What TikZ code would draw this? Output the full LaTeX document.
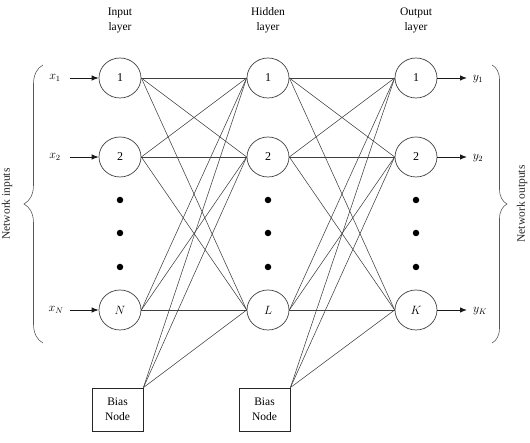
\documentclass[tikz,border=0pt]{standalone}
\usepackage{fontspec}
\setmainfont{Liberation Serif}
\usetikzlibrary{shapes.geometric,arrows.meta,decorations.pathreplacing}
\begin{document}
\begin{tikzpicture}[x=1pt,y=1pt,
 neuron/.style={ellipse,draw=black!75,line width=0.7pt,minimum width=42pt,minimum height=40pt,inner sep=0pt,font=\fontsize{12}{14}\selectfont},
 biasbox/.style={rectangle,draw=black!85,line width=0.8pt,minimum width=51pt,minimum height=43pt,align=center,inner sep=0pt,font=\fontsize{11.5}{15.5}\selectfont},
 link/.style={draw=black!75,line width=0.55pt},
 flowarrow/.style={-{Latex[length=7pt,width=5.5pt]},line width=0.9pt,draw=black!90},
 header/.style={align=center,font=\fontsize{11.5}{15}\selectfont},
 lbl/.style={font=\fontsize{12}{14}\selectfont},
 dotm/.style={circle,fill=black,inner sep=0pt,minimum size=6.5pt},
 bracestyle/.style={decorate,draw=black!65,line width=0.6pt},
 side/.style={rotate=90,font=\fontsize{11.5}{13}\selectfont,text=black!85,inner sep=1pt}]
\useasboundingbox (0,0) rectangle (530,443);

% headers
\node[header] (hin) at (120,423) {Input\\layer};
\node[header] (hhid) at (268,423) {Hidden\\layer};
\node[header] (hout) at (416,423) {Output\\layer};

% neurons
\node[neuron] (i1) at (120,365) {1};
\node[neuron] (i2) at (120,286) {2};
\node[neuron] (iN) at (120,133) {$N$};
\node[neuron] (h1) at (268,365) {1};
\node[neuron] (h2) at (268,286) {2};
\node[neuron] (hL) at (268,133) {$L$};
\node[neuron] (o1) at (416,365) {1};
\node[neuron] (o2) at (416,286) {2};
\node[neuron] (oK) at (416,133) {$K$};

% dots
\foreach \xx/\nm in {120/a,268/b,416/c}{
  \node[dotm] (d1\nm) at (\xx,243) {};
  \node[dotm] (d2\nm) at (\xx,210) {};
  \node[dotm] (d3\nm) at (\xx,176) {};
}

% bias nodes
\node[biasbox] (b1) at (117.5,33.5) {Bias\\Node};
\node[biasbox] (b2) at (264.5,33.5) {Bias\\Node};

% connections input -> hidden
\foreach \s in {i1,i2,iN}{
  \foreach \t in {h1,h2,hL}{
    \draw[link] (\s.east) -- (\t.west);
  }
}
\foreach \t in {h1,h2,hL}{
  \draw[link] (b1.north east) -- (\t.west);
}
% connections hidden -> output
\foreach \s in {h1,h2,hL}{
  \foreach \t in {o1,o2,oK}{
    \draw[link] (\s.east) -- (\t.west);
  }
}
\foreach \t in {o1,o2,oK}{
  \draw[link] (b2.north east) -- (\t.west);
}

% inputs
\node[lbl] (x1) at (55,365) {$x_1$};
\node[lbl] (x2) at (55,286) {$x_2$};
\node[lbl] (xN) at (56,133) {$x_N$};
\coordinate (ax1) at (70,365);
\coordinate (ax2) at (70,286);
\coordinate (axN) at (70,133);
\draw[flowarrow] (ax1) -- (i1.west);
\draw[flowarrow] (ax2) -- (i2.west);
\draw[flowarrow] (axN) -- (iN.west);

% outputs
\node[lbl] (y1) at (478,364) {$y_1$};
\node[lbl] (y2) at (478,285) {$y_2$};
\node[lbl] (yK) at (480,132) {$y_K$};
\coordinate (ay1) at (467,365);
\coordinate (ay2) at (467,286);
\coordinate (ayK) at (467,133);
\draw[flowarrow] (o1.east) -- (ay1);
\draw[flowarrow] (o2.east) -- (ay2);
\draw[flowarrow] (oK.east) -- (ayK);

% braces
\coordinate (bl1) at (43,100);
\coordinate (bl2) at (43,378);
\coordinate (br1) at (492,378);
\coordinate (br2) at (492,100);
\draw[bracestyle,decoration={brace,amplitude=19pt}] (bl1) -- (bl2);
\draw[bracestyle,decoration={brace,amplitude=15pt}] (br1) -- (br2);

% side labels
\node[side] (netin) at (7,239) {Network inputs};
\node[side] (netout) at (522,239) {Network outputs};
\end{tikzpicture}
\end{document}
